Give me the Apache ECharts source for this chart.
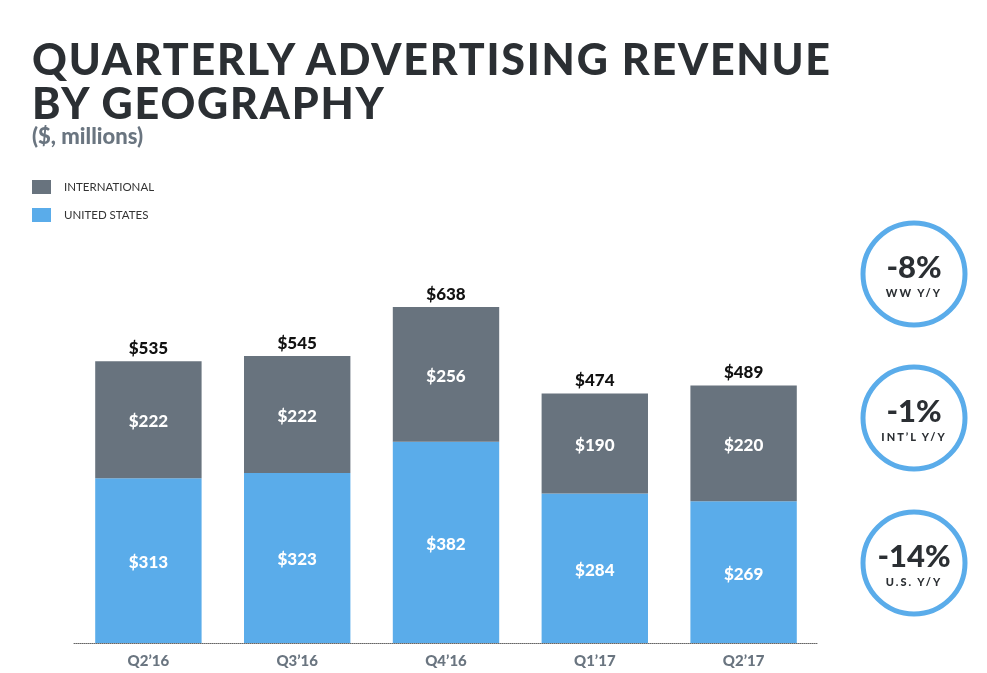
<!DOCTYPE html>
<html>
<head>
<meta charset="utf-8">
<script src="https://cdn.jsdelivr.net/npm/echarts@6/dist/echarts.min.js"></script>
<style>
  html, body { margin: 0; padding: 0; background: #fff; }
  #wrap { position: relative; width: 987px; height: 673px; }
  #chart { position: absolute; left: 0; top: 0; width: 987px; height: 673px; }
  .ttl { position: absolute; left: 32px; font-family: Lato, 'Open Sans', sans-serif; font-weight: 900;
         font-size: 43px; color: #2b2f33; white-space: nowrap; line-height: 1; }
  .yl { position: absolute; width: 120px; left: 854px; text-align: center; font-family: Lato, sans-serif;
        font-weight: 900; font-size: 11px; letter-spacing: 2px; color: #2b2f33; line-height: 1; }
</style>
</head>
<body>
<div id="wrap">
  <div id="chart"></div>
  <div class="ttl" id="t1" style="top:37px">QUARTERLY ADVERTISING REVENUE</div>
  <div class="ttl" id="t2" style="top:81px">BY GEOGRAPHY</div>
  <div id="ylabels"></div>
</div>
<script>
const categories = ['Q2\u201916', 'Q3\u201916', 'Q4\u201916', 'Q1\u201917', 'Q2\u201917'];
const unitedStates = [313, 323, 382, 284, 269];
const international = [222, 222, 256, 190, 220];
const totals = [535, 545, 638, 474, 489];
const yoyValues = ['-8%', '-1%', '-14%'];
const yoyLabels = ['WW Y/Y', 'INT\u2019L Y/Y', 'U.S. Y/Y'];

// letter-spacing fit for title line 1
(function () {
  const t1 = document.getElementById('t1');
  const t2 = document.getElementById('t2');
  const target = 798;
  const n = t1.textContent.length;
  const w = t1.getBoundingClientRect().width;
  const ls = Math.max(0, (target - w) / (n - 1));
  t1.style.letterSpacing = ls + 'px';
  t2.style.letterSpacing = ls + 'px';
})();

const chart = echarts.init(document.getElementById('chart'), null, { renderer: 'canvas' });
const INTL = '#68737e';
const US = '#5aacea';
const circleY = [274, 418, 563];
const graphics = [];
const yl = document.getElementById('ylabels');
circleY.forEach((cy, i) => {
  graphics.push({
    type: 'circle', shape: { cx: 914, cy: cy, r: 51 },
    style: { fill: '#fff', stroke: US, lineWidth: 5 }
  });
  graphics.push({
    type: 'text', x: 914, y: cy - 6,
    style: { text: yoyValues[i], fill: '#2b2f33', font: '900 31px Lato, sans-serif', align: 'center', verticalAlign: 'middle' }
  });
  const d = document.createElement('div');
  d.className = 'yl';
  d.style.top = (cy + 13) + 'px';
  d.textContent = yoyLabels[i];
  yl.appendChild(d);
});
graphics.push({
  type: 'text', left: 32, top: 126,
  style: { text: '($, millions)', fill: '#6a7580', font: '900 22px Lato, sans-serif' }
});

chart.setOption({
  animation: false,
  textStyle: { fontFamily: 'Lato, sans-serif' },
  legend: {
    orient: 'vertical', left: 32, top: 180, padding: 0, itemWidth: 19, itemHeight: 14, itemGap: 14,
    icon: 'rect',
    data: ['INTERNATIONAL', 'UNITED STATES'],
    textStyle: { fontSize: 11.5, color: '#333', fontFamily: 'Lato, sans-serif', padding: [0, 0, 0, 8] }
  },
  grid: { left: 74, right: 169, top: 274.4, bottom: 30 },
  xAxis: {
    type: 'category', data: categories,
    axisLine: { show: true, lineStyle: { color: '#666', type: 'dotted', width: 1 } },
    axisTick: { show: false },
    axisLabel: { color: '#6a7580', fontSize: 15, fontWeight: 900, margin: 11 }
  },
  yAxis: { type: 'value', min: 0, max: 700, show: false, splitLine: { show: false } },
  series: [
    {
      name: 'UNITED STATES', type: 'bar', stack: 'g', data: unitedStates, barCategoryGap: '28.5%',
      itemStyle: { color: US },
      label: { show: true, position: 'inside', offset: [0, 2], color: '#fff', fontSize: 17, fontWeight: 900, formatter: p => '$' + p.value }
    },
    {
      name: 'INTERNATIONAL', type: 'bar', stack: 'g', data: international,
      itemStyle: { color: INTL },
      label: { show: true, position: 'inside', offset: [0, 2], color: '#fff', fontSize: 17, fontWeight: 900, formatter: p => '$' + p.value }
    },
    {
      name: 'Total', type: 'bar', data: totals, barGap: '-100%', z: 1,
      itemStyle: { color: 'rgba(0,0,0,0)' }, silent: true,
      label: { show: true, position: 'top', distance: 4, color: '#111', fontSize: 17, fontWeight: 900, formatter: p => '$' + p.value }
    }
  ],
  graphic: graphics
});
</script>
</body>
</html>
